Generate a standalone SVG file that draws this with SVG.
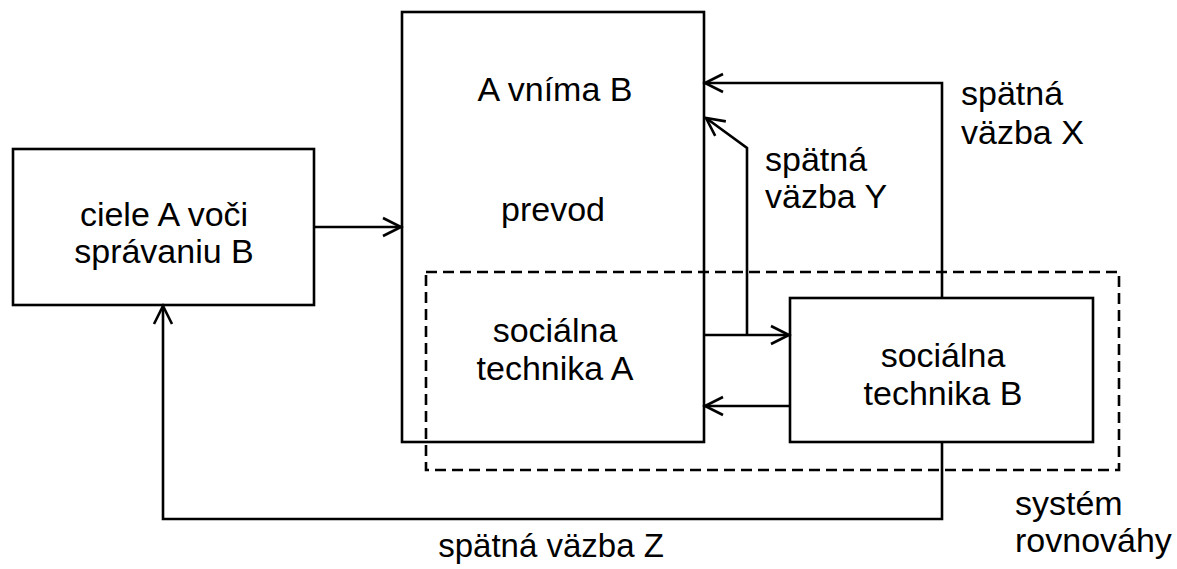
<svg xmlns="http://www.w3.org/2000/svg" width="1177" height="569" viewBox="0 0 1177 569">
  <style>
    .box { fill: none; stroke: #000; stroke-width: 2.6; }
    .frame { fill: none; stroke: #000; stroke-width: 2.6; stroke-dasharray: 11 6; }
    .wire { fill: none; stroke: #000; stroke-width: 2.6; stroke-linejoin: miter; }
    .arrow { marker-end: url(#head); }
    text { font-family: "Liberation Sans", Arial, sans-serif; font-size: 34px; fill: #000; }
    .c { text-anchor: middle; }
    .l { text-anchor: start; }
  </style>
  <defs>
    <marker id="head" markerUnits="userSpaceOnUse" markerWidth="24" markerHeight="24" viewBox="-20 -12 24 24" refX="0" refY="0" orient="auto" overflow="visible">
      <path d="M -18 -9 L 0 0 L -18 9" fill="none" stroke="#000" stroke-width="2.6"/>
    </marker>
  </defs>
  <rect width="1177" height="569" fill="#fff"/>

  <!-- equilibrium system boundary -->
  <g id="system">
    <rect class="frame" x="426" y="272" width="693" height="198"/>
    <text class="l" x="1015" y="515">systém</text>
    <text class="l" x="1015" y="552">rovnováhy</text>
  </g>

  <g id="goals">
    <rect class="box" x="13" y="149" width="301" height="156"/>
    <text class="c" x="164" y="226">ciele A voči</text>
    <text class="c" x="164" y="263">správaniu B</text>
  </g>

  <g id="actorA">
    <rect class="box" x="402" y="12" width="302" height="430"/>
    <text class="c" x="555" y="101">A vníma B</text>
    <text class="c" x="553" y="221">prevod</text>
    <text class="c" x="555" y="342">sociálna</text>
    <text class="c" x="555" y="380">technika A</text>
  </g>

  <g id="actorB">
    <rect class="box" x="790" y="298" width="303" height="144"/>
    <text class="c" x="943" y="367">sociálna</text>
    <text class="c" x="943" y="405">technika B</text>
  </g>

  <g id="connectors">
    <path class="wire arrow" d="M 314 227 H 401"/>
    <path class="wire arrow" d="M 704 335 H 789"/>
    <path class="wire arrow" d="M 790 406 H 705"/>
    <path class="wire arrow" d="M 942 298 V 83 H 705"/>
    <path class="wire arrow" d="M 747 335 V 148 L 706 118"/>
    <path class="wire arrow" d="M 942 442 V 519 H 163 V 306"/>
    <g id="labels">
      <text class="l" x="961" y="105">spätná</text>
      <text class="l" x="961" y="144">väzba X</text>
      <text class="l" x="765" y="171">spätná</text>
      <text class="l" x="765" y="208">väzba Y</text>
      <text class="c" x="551" y="557" style="font-size:33px">spätná väzba Z</text>
    </g>
  </g>
</svg>
